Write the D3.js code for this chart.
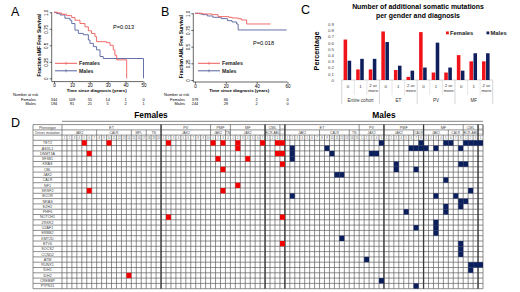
<!DOCTYPE html>
<html>
<head>
<meta charset="utf-8">
<script src="https://cdn.jsdelivr.net/npm/d3@7"></script>
<style>
  body { margin: 0; background: #fff; }
  svg { display: block; font-family: "Liberation Sans", Arial, sans-serif; }
</style>
</head>
<body>
<svg id="fig" width="520" height="292"></svg>
<script>
/* ----------------------- Data ----------------------- */
// A - sMF free survival (years, fraction)
const yearTicksA = [0, 10, 20, 30, 40, 50];
const survTicks = [0, 0.25, 0.5, 0.75, 1];
const survTickLabels = ["0", "0.25", "0.5", "0.75", "1.0"];
const femalesSMF = [[0, 1], [2, 0.99], [4.3, 0.97], [7, 0.95], [9.9, 0.92], [11.7, 0.88], [14.5, 0.83],
  [17.3, 0.78], [19.2, 0.72], [21, 0.68], [22.9, 0.63], [23.8, 0.555], [29.4, 0.54], [31.3, 0.5],
  [33.1, 0.43], [34, 0.35], [35, 0.28], [40.6, 0]];
const malesSMF = [[0, 1], [1.5, 0.98], [3.4, 0.96], [6.1, 0.91], [8.9, 0.88], [9.9, 0.83], [11.7, 0.73],
  [13.6, 0.68], [16.4, 0.66], [19.2, 0.58], [20.1, 0.53], [22, 0.48], [23.8, 0.43], [25.7, 0.33],
  [27.5, 0.3], [50, 0]];
const riskFemalesA = [344, 109, 55, 14, 1, 0];
const riskMalesA = [194, 91, 21, 5, 2, 1];

// B - AML free survival
const yearTicksB = [0, 20, 40, 60];
const femalesAML = [[0, 1], [5, 0.99], [11, 0.98], [15, 0.95], [22, 0.94], [24, 0.93], [28, 0.92],
  [30, 0.9], [33.5, 0.84], [49, 0.84]];
const malesAML = [[0, 1], [3, 0.99], [5, 0.98], [8, 0.96], [11.6, 0.94], [17, 0.92], [21, 0.89],
  [24, 0.87], [27, 0.84], [28, 0.75], [59.5, 0.75]];
const riskFemalesB = [379, 66, 2, 0];
const riskMalesB = [244, 29, 2, 0];

// C - additional somatic mutations
const diagnoses = ["Entire cohort", "ET", "PV", "MF"];
const mutCounts = ["0", "1", "2 or more"];
const femalePct = [[0.65, 0.17, 0.17], [0.78, 0.16, 0.05], [0.77, 0.12, 0.12], [0.40, 0.30, 0.30]];
const malePct = [[0.31, 0.34, 0.34], [0.61, 0.23, 0.15], [0.20, 0.60, 0.20], [0.15, 0.43, 0.43]];
const pctTicks = [0, 0.1, 0.2, 0.3, 0.4, 0.5, 0.6, 0.7, 0.8, 0.9];

// D - mutation map
const genes = ["TET2", "ASXL1", "DNMT3A", "SF3B1", "KRAS", "CBL", "JAK2", "CALR", "NF1", "SRSF2",
  "BCOR", "NRAS", "EZH2", "PHF6", "NOTCH1", "ZRSR2", "U2AF1", "ERBB2", "KMT2D", "ETV6", "SOCS2",
  "CCND2", "ATM", "RUNX1", "IDH1", "IDH2", "CREBBP", "PTPN11"];
const femalePhenotypes = [["ET", 20], ["PV", 10], ["PMF", 4], ["MF", 7], ["CML", 3], ["---", 1]];
const femaleDrivers = [["JAK2", 7], ["CALR", 7], ["MPL", 3], ["TN", 3], ["JAK2", 10], ["JAK2", 3],
  ["TN", 1], ["JAK2", 7], ["BCR-ABL", 3], ["---", 1]];
const malePhenotypes = [["ET", 15], ["PV", 5], ["PMF", 8], ["MF", 8], ["CML", 3], ["---", 1]];
const maleDrivers = [["JAK2", 7], ["CALR", 6], ["TN", 2], ["JAK2", 5], ["JAK2", 6], ["CALR", 2],
  ["JAK2", 5], ["CALR", 3], ["BCR-ABL", 3], ["---", 1]];
const femaleMutations = [["TET2", 4], ["TET2", 9], ["TET2", 21], ["TET2", 30], ["TET2", 32], ["TET2", 35],
  ["TET2", 40], ["TET2", 43], ["TET2", 44], ["ASXL1", 35], ["DNMT3A", 5], ["DNMT3A", 43], ["DNMT3A", 44],
  ["SF3B1", 31], ["SF3B1", 37], ["KRAS", 44], ["CBL", 32], ["NF1", 35], ["SRSF2", 5], ["SRSF2", 32],
  ["NOTCH1", 21], ["NOTCH1", 44], ["ETV6", 44], ["IDH2", 13]];
const maleMutations = [["TET2", 19], ["TET2", 27], ["TET2", 32], ["TET2", 33], ["TET2", 36], ["TET2", 37],
  ["TET2", 38], ["TET2", 39], ["ASXL1", 1], ["ASXL1", 8], ["ASXL1", 25], ["ASXL1", 26], ["ASXL1", 27],
  ["ASXL1", 28], ["ASXL1", 30], ["ASXL1", 35], ["DNMT3A", 1], ["DNMT3A", 9], ["DNMT3A", 17], ["DNMT3A", 18],
  ["SF3B1", 1], ["KRAS", 22], ["KRAS", 35], ["KRAS", 36], ["CBL", 22], ["CBL", 26], ["JAK2", 10], ["JAK2", 11],
  ["CALR", 32], ["SRSF2", 37], ["BCOR", 1], ["BCOR", 30], ["BCOR", 34], ["NRAS", 35], ["NRAS", 36],
  ["EZH2", 32], ["EZH2", 35], ["PHF6", 24], ["PHF6", 32], ["ZRSR2", 30], ["U2AF1", 30], ["ERBB2", 30],
  ["U2AF1", 26], ["KMT2D", 11], ["ETV6", 35], ["SOCS2", 35], ["CCND2", 35], ["ATM", 16], ["RUNX1", 37],
  ["RUNX1", 38], ["RUNX1", 39], ["IDH1", 37], ["CREBBP", 19], ["PTPN11", 26]];

/* ----------------------- Setup ----------------------- */
const FONT = "'Liberation Sans', Arial, sans-serif";
const svg = d3.select("#fig");
const kmRed = "#ef5a5a", kmBlue = "#56629e";
const barRed = "#f0141a", barBlue = "#0f1f5e";

// panel letters
[["A", 11, 16], ["B", 161, 16], ["C", 301, 14], ["D", 11, 127]].forEach(([t, x, y]) =>
  svg.append("text").attr("x", x).attr("y", y).attr("font-size", 12.5).text(t));

/* ----------------------- A & B: survival curves ----------------------- */
function drawKM(p) {
  const g = svg.append("g");
  const x = d3.scaleLinear().domain([0, p.xMax]).range(p.xRange);
  const y = d3.scaleLinear().domain([0, 1]).range(p.yRange);

  g.append("line").attr("x1", p.axisX).attr("x2", p.axisX).attr("y1", y(1)).attr("y2", p.axisY)
    .attr("stroke", "#000").attr("stroke-width", 0.6);
  g.append("line").attr("x1", p.axisX).attr("x2", x(p.xMax)).attr("y1", p.axisY).attr("y2", p.axisY)
    .attr("stroke", "#000").attr("stroke-width", 0.6);

  const yAx = g.append("g").attr("transform", `translate(${p.axisX},0)`)
    .call(d3.axisLeft(y).tickValues(survTicks).tickFormat((d, i) => survTickLabels[i]).tickSize(2));
  yAx.attr("font-size", 4.6).attr("font-family", FONT);
  yAx.select(".domain").remove();
  yAx.selectAll("line").attr("stroke-width", 0.6);
  yAx.selectAll("text").attr("transform", "rotate(-90)").attr("x", 0).attr("y", -3.4)
    .attr("dy", 0).attr("text-anchor", "middle");

  const xAx = g.append("g").attr("transform", `translate(0,${p.axisY})`)
    .call(d3.axisBottom(x).tickValues(p.ticks).tickSize(1.8).tickPadding(0.6));
  xAx.attr("font-size", 4.5).attr("font-family", FONT);
  xAx.select(".domain").remove();
  xAx.selectAll("line").attr("stroke-width", 0.6);

  const line = d3.line().x(d => x(d[0])).y(d => y(d[1])).curve(d3.curveStepAfter);
  g.append("path").datum(p.males).attr("d", line).attr("fill", "none")
    .attr("stroke", kmBlue).attr("stroke-width", 0.9);
  g.append("path").datum(p.females).attr("d", line).attr("fill", "none")
    .attr("stroke", kmRed).attr("stroke-width", 0.9);

  // axis titles
  g.append("text").attr("transform", `translate(${p.yLabelX},${(y(1) + y(0)) / 2}) rotate(-90)`)
    .attr("text-anchor", "middle").attr("font-size", 4.9).attr("font-weight", "bold").text(p.yLabel);
  g.append("text").attr("x", (x(0) + x(p.xMax)) / 2 - 2).attr("y", 92.4)
    .attr("text-anchor", "middle").attr("font-size", 4.4).attr("font-weight", "bold")
    .text("Time since diagnosis (years)");

  g.append("text").attr("x", p.pX).attr("y", p.pY).attr("font-size", 5.6).text(p.pText);

  // legend
  [["Females", kmRed, 63.3], ["Males", kmBlue, 70.8]].forEach(([name, col, ly]) => {
    g.append("line").attr("x1", p.legX).attr("x2", p.legX + 22).attr("y1", ly).attr("y2", ly)
      .attr("stroke", col).attr("stroke-width", 1);
    g.append("line").attr("x1", p.legX + 11).attr("x2", p.legX + 11).attr("y1", ly - 1.5).attr("y2", ly + 1.5)
      .attr("stroke", col).attr("stroke-width", 0.7);
    g.append("text").attr("x", p.legX + 24).attr("y", ly + 1.8).attr("font-size", 5.2)
      .attr("font-weight", "bold").attr("fill", "#222").text(name);
  });

  // number at risk
  g.append("text").attr("x", p.riskX).attr("y", 95.8).attr("font-size", 3.9).text("Number at risk");
  [["Females", p.riskF, 100.6], ["Males", p.riskM, 105.4]].forEach(([name, vals, ry]) => {
    g.append("text").attr("x", p.riskLabelX).attr("y", ry).attr("text-anchor", "end")
      .attr("font-size", 3.9).text(name);
    g.selectAll(null).data(vals).enter().append("text")
      .attr("x", (d, i) => x(p.ticks[i])).attr("y", ry).attr("text-anchor", "middle")
      .attr("font-size", 3.9).text(d => d);
  });
}

drawKM({
  xMax: 50, xRange: [54, 143.5], yRange: [78.3, 12.3], axisX: 51.7, axisY: 81.6, ticks: yearTicksA,
  females: femalesSMF, males: malesSMF, yLabel: "Fraction sMF Free Survival", yLabelX: 41,
  pText: "P=0.013", pX: 113, pY: 28.6, legX: 55, riskX: 13, riskLabelX: 36,
  riskF: riskFemalesA, riskM: riskMalesA
});
drawKM({
  xMax: 60, xRange: [195, 287.5], yRange: [80, 13.3], axisX: 193.3, axisY: 82, ticks: yearTicksB,
  females: femalesAML, males: malesAML, yLabel: "Fraction AML Free Survival", yLabelX: 183,
  pText: "P=0.018", pX: 253, pY: 44.6, legX: 198, riskX: 164, riskLabelX: 185,
  riskF: riskFemalesB, riskM: riskMalesB
});

/* ----------------------- C: bar chart ----------------------- */
const gC = svg.append("g");
const groupX = d3.scaleBand().domain(diagnoses).range([341.7, 492.7]);
const catX = d3.scaleBand().domain(mutCounts).range([0, groupX.bandwidth()]);
const sexX = d3.scaleBand().domain(["Females", "Males"]).range([-4.4, 3.2]).paddingInner(0.12);
const pctY = d3.scaleLinear().domain([0, 0.9]).range([80, 24]);

gC.append("text").attr("x", 418).attr("y", 9.4).attr("text-anchor", "middle").attr("font-size", 6.9)
  .attr("font-weight", "bold").text("Number of additional somatic mutations");
gC.append("text").attr("x", 418).attr("y", 17.6).attr("text-anchor", "middle").attr("font-size", 6.9)
  .attr("font-weight", "bold").text("per gender and diagnosis");
gC.append("text").attr("transform", "translate(319,51) rotate(-90)").attr("text-anchor", "middle")
  .attr("font-size", 7.2).attr("font-weight", "bold").text("Percentage");

const cAx = gC.append("g").attr("transform", "translate(334,0)")
  .call(d3.axisLeft(pctY).tickValues(pctTicks).tickFormat(d3.format(".1~f")).tickSize(0).tickPadding(0));
cAx.attr("font-size", 4.4).attr("font-family", FONT);
cAx.select(".domain").remove();
cAx.selectAll("text").attr("fill", "#444");

// category axis lines
gC.append("line").attr("x1", groupX.range()[0]).attr("x2", groupX.range()[1]).attr("y1", 80).attr("y2", 80)
  .attr("stroke", "#bbb").attr("stroke-width", 0.6);
diagnoses.concat([null]).forEach(d => {
  const gx = d === null ? groupX.range()[1] : groupX(d);
  gC.append("line").attr("x1", gx).attr("x2", gx).attr("y1", 80).attr("y2", 104)
    .attr("stroke", "#bbb").attr("stroke-width", 0.6);
});
diagnoses.forEach((d, i) => {
  const g = gC.append("g").attr("transform", `translate(${groupX(d)},0)`);
  mutCounts.forEach((c, j) => {
    if (j > 0) g.append("line").attr("x1", catX(c)).attr("x2", catX(c)).attr("y1", 80).attr("y2", 95)
      .attr("stroke", "#ccc").attr("stroke-width", 0.5);
    const cx = catX(c) + catX.bandwidth() / 2;
    g.append("rect").attr("x", cx + sexX("Females")).attr("width", sexX.bandwidth())
      .attr("y", pctY(femalePct[i][j])).attr("height", pctY(0) - pctY(femalePct[i][j])).attr("fill", barRed);
    g.append("rect").attr("x", cx + sexX("Males")).attr("width", sexX.bandwidth())
      .attr("y", pctY(malePct[i][j])).attr("height", pctY(0) - pctY(malePct[i][j])).attr("fill", barBlue);
    const t = g.append("text").attr("x", cx).attr("y", 88).attr("text-anchor", "middle")
      .attr("font-size", 4.4).attr("fill", "#333");
    if (c === "2 or more") {
      t.append("tspan").attr("x", cx).attr("y", 87.2).text("2 or");
      t.append("tspan").attr("x", cx).attr("y", 92.4).text("more");
    } else t.text(c);
  });
  g.append("text").attr("x", groupX.bandwidth() / 2).attr("y", 101.8).attr("text-anchor", "middle")
    .attr("font-size", 4.6).attr("fill", "#333").text(d);
});

// legend
[["Females", barRed, 446], ["Males", barBlue, 486.5]].forEach(([name, col, lx]) => {
  gC.append("rect").attr("x", lx).attr("y", 31.5).attr("width", 2.8).attr("height", 2.8).attr("fill", col);
  gC.append("text").attr("x", lx + 4).attr("y", 35).attr("font-size", 5.8).attr("font-weight", "bold")
    .attr("fill", "#222").text(name);
});

/* ----------------------- D: mutation map ----------------------- */
const gD = svg.append("g");
const nFemale = d3.sum(femalePhenotypes, d => d[1]);
const nMale = d3.sum(malePhenotypes, d => d[1]);
const colX = d3.scaleBand().domain(d3.range(nFemale + nMale)).range([62, 483]);
const rowY = d3.scaleBand().domain(genes).range([140.3, 288.7]);
const cw = colX.step();
const labelLeft = 33, tableTop = 124.6, drvTop = 129.9, numTop = 135.1;
const gridBottom = rowY.range()[1], gridRight = colX.range()[1];
const edge = c => c < colX.domain().length ? colX(c) : gridRight;

gD.append("text").attr("x", 151).attr("y", 117.5).attr("text-anchor", "middle").attr("font-size", 8.4)
  .attr("font-weight", "bold").text("Females");
gD.append("text").attr("x", 384).attr("y", 117.5).attr("text-anchor", "middle").attr("font-size", 8.4)
  .attr("font-weight", "bold").text("Males");
gD.append("line").attr("x1", 62).attr("x2", gridRight).attr("y1", 121.3).attr("y2", 121.3)
  .attr("stroke", "#666").attr("stroke-width", 0.8);

const thin = "#5e5e5e", thinW = 0.7;
// horizontal lines
[tableTop, drvTop, numTop].concat(genes.map(g => rowY(g)), [gridBottom]).forEach(yy =>
  gD.append("line").attr("x1", labelLeft).attr("x2", gridRight).attr("y1", yy).attr("y2", yy)
    .attr("stroke", thin).attr("stroke-width", thinW));
// label column borders
[labelLeft, 62].forEach(xx => gD.append("line").attr("x1", xx).attr("x2", xx)
  .attr("y1", tableTop).attr("y2", gridBottom).attr("stroke", thin).attr("stroke-width", thinW));
// every column in number row and body
colX.domain().slice(1).forEach(c => gD.append("line").attr("x1", colX(c)).attr("x2", colX(c))
  .attr("y1", numTop).attr("y2", gridBottom).attr("stroke", thin).attr("stroke-width", thinW));
gD.append("line").attr("x1", gridRight).attr("x2", gridRight).attr("y1", tableTop).attr("y2", gridBottom)
  .attr("stroke", thin).attr("stroke-width", thinW);

// header groups
function headerRow(groups, offset, y0, y1, fs) {
  let c = offset;
  groups.forEach(([name, n]) => {
    const x0 = colX(c), x1 = edge(c + n);
    gD.append("line").attr("x1", x1).attr("x2", x1).attr("y1", y0).attr("y2", y1)
      .attr("stroke", thin).attr("stroke-width", thinW);
    gD.append("text").attr("x", (x0 + x1) / 2).attr("y", y1 - 1.2).attr("text-anchor", "middle")
      .attr("font-size", fs).attr("fill", "#444").text(name);
    c += n;
  });
}
headerRow(femalePhenotypes, 0, tableTop, drvTop, 3.8);
headerRow(malePhenotypes, nFemale, tableTop, drvTop, 3.8);
headerRow(femaleDrivers, 0, drvTop, numTop, 3.3);
headerRow(maleDrivers, nFemale, drvTop, numTop, 3.3);

// column numbers, restarting for each phenotype
function numberRow(groups, offset) {
  let c = offset;
  groups.forEach(([, n]) => {
    d3.range(n).forEach(k => gD.append("text").attr("x", colX(c + k) + cw / 2).attr("y", numTop + 4)
      .attr("text-anchor", "middle").attr("font-size", 2.7).attr("fill", "#555").text(k + 1));
    c += n;
  });
}
numberRow(femalePhenotypes, 0);
numberRow(malePhenotypes, nFemale);

gD.append("text").attr("x", 47.5).attr("y", drvTop - 1.3).attr("text-anchor", "middle")
  .attr("font-size", 3.6).attr("fill", "#444").text("Phenotype");
gD.append("text").attr("x", 47.5).attr("y", numTop - 1.3).attr("text-anchor", "middle")
  .attr("font-size", 3.6).attr("fill", "#444").text("Driver mutation");

// gene labels
gD.selectAll(".gene").data(genes).enter().append("text")
  .attr("x", 47.5).attr("y", d => rowY(d) + rowY.bandwidth() / 2 + 1.3)
  .attr("text-anchor", "middle").attr("font-size", 3.7).attr("fill", "#444").text(d => d);

// thick separators
[20, 41, 45, 65, 73, 84].forEach(c => gD.append("line").attr("x1", colX(c)).attr("x2", colX(c))
  .attr("y1", tableTop).attr("y2", gridBottom).attr("stroke", "#3a3a3a").attr("stroke-width", 1.3));

// mutation cells
gD.selectAll(".fm").data(femaleMutations).enter().append("rect")
  .attr("x", d => colX(d[1])).attr("y", d => rowY(d[0]))
  .attr("width", colX.bandwidth()).attr("height", rowY.bandwidth()).attr("fill", "#f20000");
gD.selectAll(".mm").data(maleMutations).enter().append("rect")
  .attr("x", d => colX(nFemale + d[1])).attr("y", d => rowY(d[0]))
  .attr("width", colX.bandwidth()).attr("height", rowY.bandwidth()).attr("fill", "#0b1f5c");
</script>
</body>
</html>
